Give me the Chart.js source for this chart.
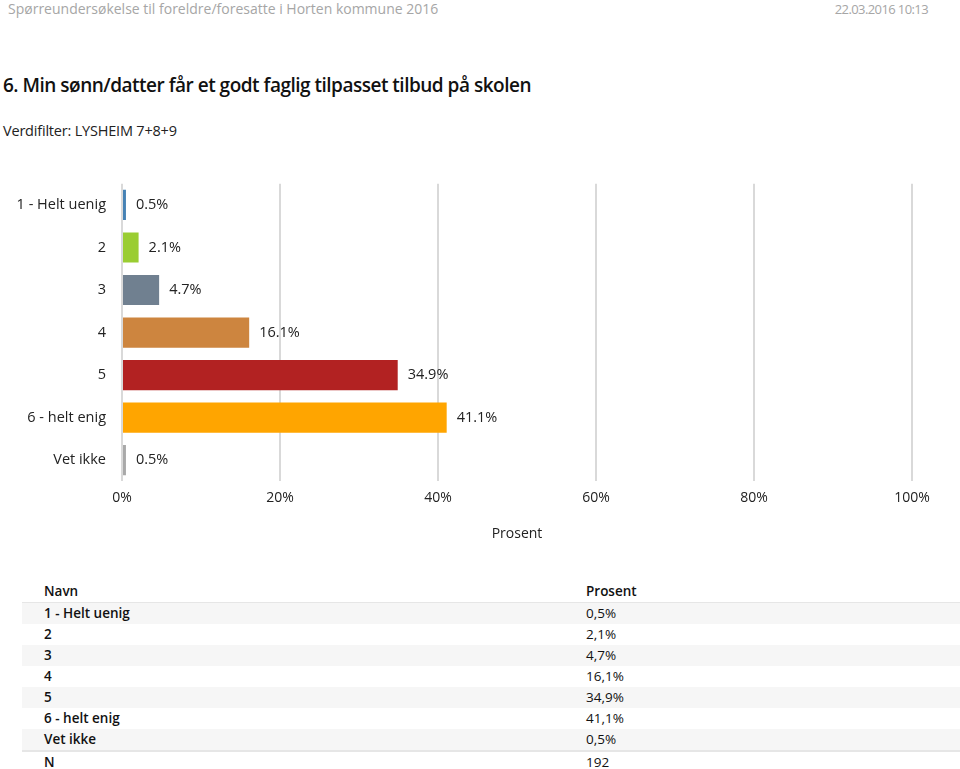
<!DOCTYPE html>
<html>
<head>
<meta charset="utf-8">
<script src="https://cdn.jsdelivr.net/npm/chart.js@4"></script>
<style>
  body { margin: 0; background: #fff; font-family: "Open Sans", "DejaVu Sans", sans-serif; width: 960px; height: 769px; position: relative; overflow: hidden; }
  .top { position: absolute; top: 0; left: 8px; right: 32px; font-size: 14px; color: #a6a6a6; line-height: 18px; }
  .top span.r { position: absolute; right: 0; top: 0; letter-spacing: -0.6px; font-size: 13px; }
  h1 { position: absolute; top: 72px; left: 3px; margin: 0; font-size: 19px; font-weight: 600; color: #111; letter-spacing: -0.5px; }
  .filter { position: absolute; top: 121px; left: 3px; font-size: 14.5px; color: #222; letter-spacing: -0.2px; }
  #wrap { position: absolute; left: 0; top: 167px; width: 960px; height: 379px; }
  table { position: absolute; left: 22px; top: 581px; width: 938px; border-collapse: collapse; font-size: 13.5px; color: #111; }
  td { height: 21px; padding: 0; line-height: 21px; }
  td:first-child { padding-left: 22px; width: 542px; font-weight: 600; }
  tr.alt td { background: #f6f6f6; }
  tr.head td { border-bottom: 1px solid #e6e6e6; font-weight: 600; }
  tr.n td { border-top: 2px solid #e6e6e6; }
</style>
</head>
<body>
<div class="top">Spørreundersøkelse til foreldre/foresatte i Horten kommune 2016<span class="r">22.03.2016 10:13</span></div>
<h1>6. Min sønn/datter får et godt faglig tilpasset tilbud på skolen</h1>
<div class="filter">Verdifilter: LYSHEIM 7+8+9</div>
<div id="wrap"><canvas id="chart"></canvas></div>
<table id="tabell"></table>
<script>
const kategorier = ["1 - Helt uenig", "2", "3", "4", "5", "6 - helt enig", "Vet ikke"];
const prosent = [0.5, 2.1, 4.7, 16.1, 34.9, 41.1, 0.5];
const farger = ["#4682b4", "#9acd32", "#708090", "#cd853f", "#b22222", "#ffa500", "#a9a9a9"];
const ticks = [0, 20, 40, 60, 80, 100];
const antall = 192;

// tabell under grafen
let tb = document.getElementById("tabell");
let html = '<tr class="head"><td>Navn</td><td>Prosent</td></tr>';
kategorier.forEach((k, i) => {
    html += `<tr class="${i % 2 == 0 ? 'alt' : ''}"><td>${k}</td><td>${prosent[i].toFixed(1).replace('.', ',')}%</td></tr>`;
});
html += `<tr class="n"><td>N</td><td>${antall}</td></tr>`;
tb.innerHTML = html;

// verdier ved enden av stolpene
const verdiEtiketter = {
    id: "verdiEtiketter",
    afterDatasetsDraw(chart) {
        const ctx = chart.ctx;
        const meta = chart.getDatasetMeta(0);
        ctx.save();
        ctx.font = "14.5px 'Open Sans', sans-serif";
        ctx.fillStyle = "#222";
        ctx.textBaseline = "middle";
        meta.data.forEach((bar, i) => {
            ctx.fillText(prosent[i].toFixed(1) + "%", bar.x + 10, bar.y);
        });
        ctx.restore();
    }
};

var ctx = document.getElementById("chart").getContext("2d");
var myChart = new Chart(ctx, {
    type: "bar",
    data: {
        labels: kategorier,
        datasets: [{
            data: prosent,
            backgroundColor: farger,
            barPercentage: 0.71,
            categoryPercentage: 1
        }]
    },
    options: {
        indexAxis: "y",
        responsive: true,
        maintainAspectRatio: false,
        animation: false,
        layout: { padding: { top: 8, right: 48 } },
        plugins: { legend: { display: false }, tooltip: { enabled: false } },
        scales: {
            x: {
                min: 0, max: 100,
                afterBuildTicks: (axis) => { axis.ticks = ticks.map(v => ({ value: v })); },
                grid: { color: "#d9d9d9", lineWidth: 2, drawTicks: false },
                border: { display: false },
                ticks: { padding: 8, color: "#222", font: { size: 14, family: "'Open Sans', sans-serif" }, callback: v => v + "%" },
                title: { display: true, text: "Prosent", color: "#222", padding: { top: 11 }, font: { size: 14, family: "'Open Sans', sans-serif" } }
            },
            y: {
                afterFit: (axis) => { axis.width = 122; },
                grid: { display: false },
                border: { display: false },
                ticks: { padding: 8, color: "#222", font: { size: 14.5, family: "'Open Sans', sans-serif" } }
            }
        }
    },
    plugins: [verdiEtiketter]
});
</script>
</body>
</html>
